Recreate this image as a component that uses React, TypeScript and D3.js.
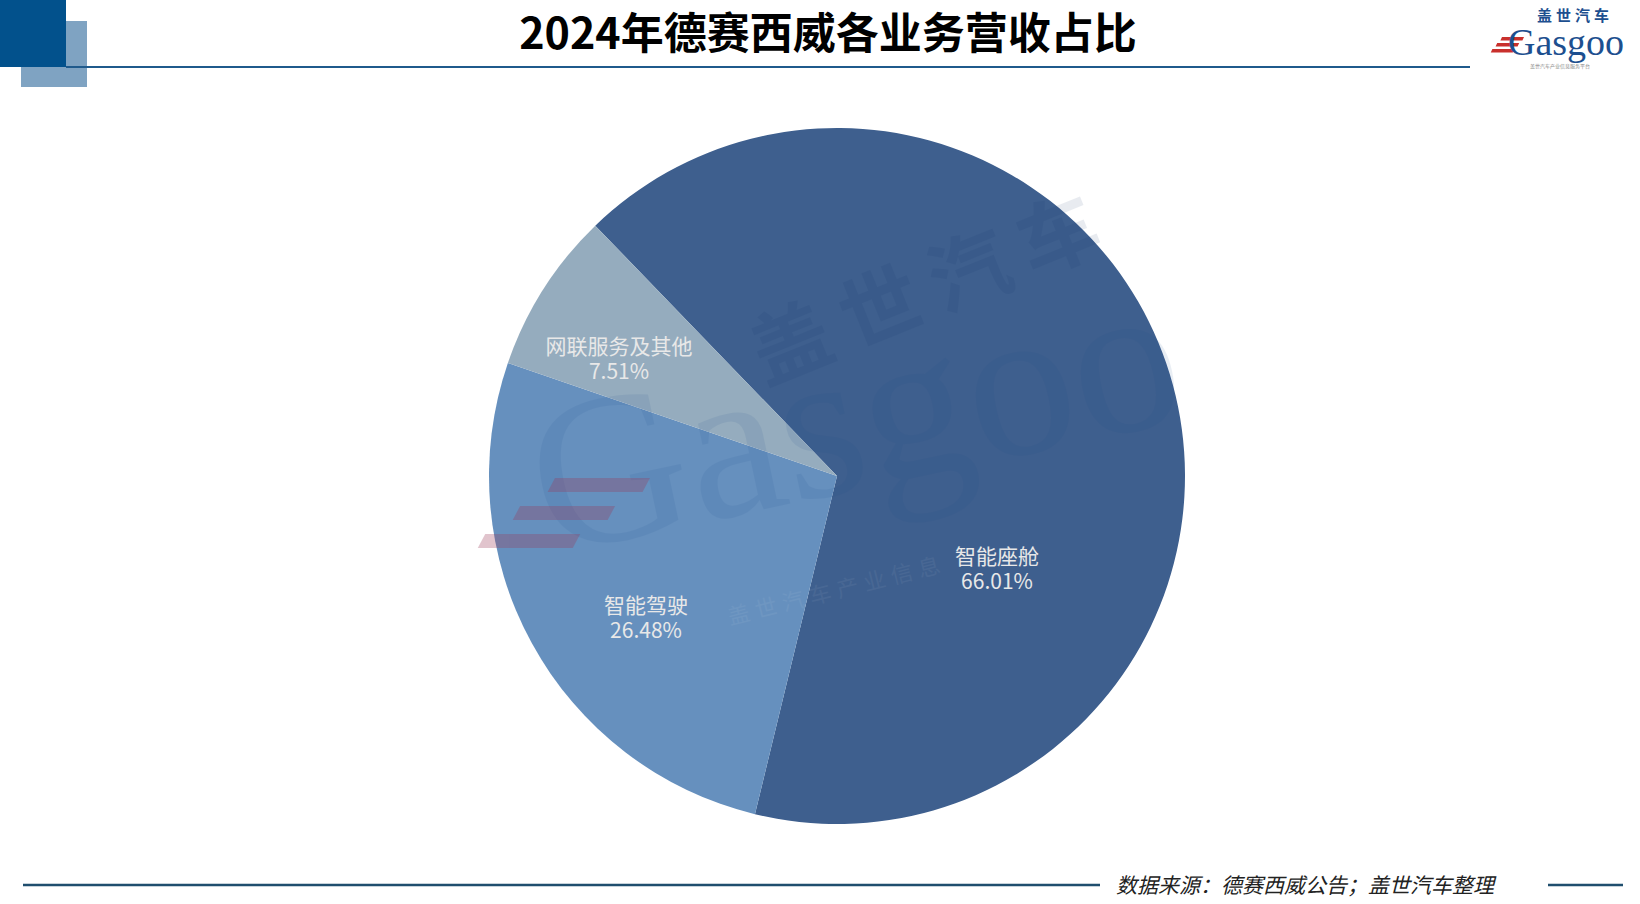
import React from "react";
import * as d3 from "d3";

const TITLE = "2024年德赛西威各业务营收占比";
const SOURCE = "数据来源：德赛西威公告；盖世汽车整理";
const categories = ["智能座舱", "智能驾驶", "网联服务及其他"];
const shares = [66.01, 26.48, 7.51];
const sliceColors = ["#3e5f8e", "#6690be", "#95acbe"];

const W = 1640;
const H = 904;
const CX = 837;
const CY = 476;
const R = 348;
const START_DEG = -44;
// label block offsets from pie centre (layout only)
const LABEL_OFFSETS: [number, number][] = [
  [160, 93],
  [-191, 142],
  [-218, -117],
];

export default function App() {
  const pie = d3
    .pie<number>()
    .sort(null)
    .value((d) => d)
    .startAngle((START_DEG * Math.PI) / 180)
    .endAngle((START_DEG * Math.PI) / 180 + 2 * Math.PI);
  const arcs = pie(shares);
  const arcGen = d3.arc<d3.PieArcDatum<number>>().innerRadius(0).outerRadius(R);
  const fmt = d3.format(".2f");

  return (
    <svg
      width={W}
      height={H}
      viewBox={`0 0 ${W} ${H}`}
      style={{ position: "absolute", left: 0, top: 0, background: "#fff" }}
      fontFamily="'Noto Sans CJK SC', 'Noto Sans', sans-serif"
    >
      <rect x={0} y={0} width={W} height={H} fill="#ffffff" />
      {/* header decoration */}
      <rect x={21} y={21} width={66} height={66} fill="#7fa3c2" />
      <rect x={0} y={0} width={66} height={67} fill="#02518c" />
      <line x1={66} x2={1470} y1={67} y2={67} stroke="#1f5a8c" strokeWidth={2} />
      <text
        x={828}
        y={49}
        textAnchor="middle"
        fontSize={43}
        fontWeight={700}
        fill="#000"
      >
        {TITLE}
      </text>

      {/* logo */}
      <g>
        <text x={1537} y={21} fontSize={15} fontWeight={700} fill="#1d4f8f" letterSpacing={4}>
          盖世汽车
        </text>
        <g transform="translate(1490,37) skewX(-25)">
          <rect x={12} y={0} width={22} height={3.5} fill="#c9302c" />
          <rect x={10} y={6} width={22} height={3.5} fill="#c9302c" />
          <rect x={8} y={12} width={22} height={3.5} fill="#c9302c" />
        </g>
        <text x={1508} y={55} fontSize={38} fontFamily="'Liberation Serif', serif" fill="#1d4f8f">
          Gasgoo
        </text>
        <text x={1530} y={68} fontSize={5} fill="#888">
          盖世汽车产业信息服务平台
        </text>
      </g>

      {/* pie */}
      <g transform={`translate(${CX},${CY})`}>
        {arcs.map((a, i) => (
          <path key={categories[i]} d={arcGen(a) || ""} fill={sliceColors[i]} />
        ))}
      </g>

      {/* watermark */}
      <g opacity={0.09} pointerEvents="none">
        <text
          x={0}
          y={0}
          transform={`translate(765,385) rotate(-22)`}
          fontSize={80}
          fontWeight={700}
          fill="#0d2f66"
          letterSpacing={16}
        >
          盖世汽车
        </text>
        <text
          x={0}
          y={0}
          transform={`translate(548,555) rotate(-12)`}
          fontSize={215}
          fontFamily="'Liberation Serif', serif"
          fill="#1a4a8c"
        >
          Gasgoo
        </text>
      </g>
      <g opacity={0.05} pointerEvents="none">
        <text
          x={0}
          y={0}
          transform={`translate(730,625) rotate(-14)`}
          fontSize={22}
          fill="#ffffff"
          letterSpacing={6}
        >
          盖世汽车产业信息
        </text>
      </g>
      <g opacity={0.3} transform="translate(515,478) skewX(-28)">
        <rect x={40} y={0} width={95} height={14} fill="#9a3a5a" />
        <rect x={20} y={28} width={95} height={14} fill="#9a3a5a" />
        <rect x={0} y={56} width={95} height={14} fill="#9a3a5a" />
      </g>

      {/* labels */}
      {arcs.map((a, i) => {
        const [dx, dy] = LABEL_OFFSETS[i];
        return (
          <text
            key={"lbl" + i}
            x={CX + dx}
            y={CY + dy}
            textAnchor="middle"
            fontSize={21}
            fill="#e8e8e8"
          >
            <tspan x={CX + dx} dy={-5}>
              {categories[i]}
            </tspan>
            <tspan x={CX + dx} dy={25}>
              {fmt(a.data) + "%"}
            </tspan>
          </text>
        );
      })}

      {/* footer */}
      <line x1={23} x2={1100} y1={885} y2={885} stroke="#1f4e6e" strokeWidth={2.5} />
      <line x1={1548} x2={1623} y1={885} y2={885} stroke="#1f4e6e" strokeWidth={2.5} />
      <text x={1116} y={893} fontSize={21} fontStyle="italic" fill="#222">
        {SOURCE}
      </text>
    </svg>
  );
}
